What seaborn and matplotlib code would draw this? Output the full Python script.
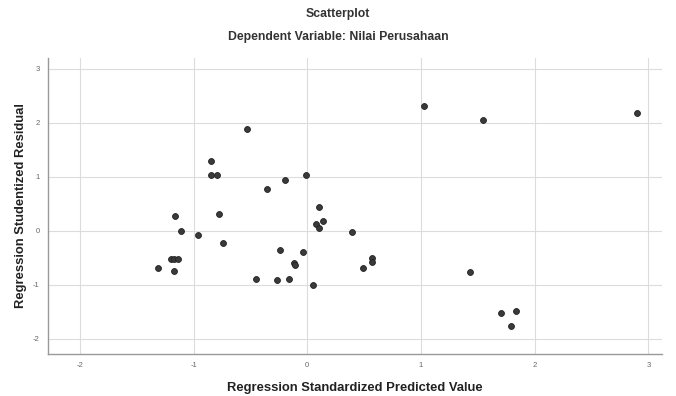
import numpy as np
import pandas as pd
import seaborn as sns
import matplotlib.pyplot as plt

# values
predicted = [-0.53, -0.85, -0.85, -0.79, -0.01, -0.20, -0.35, 0.10, -0.78, -1.16,
             0.14, 0.08, 0.10, -1.11, -0.96, -0.74, -0.24, -0.04, -0.12, -0.11,
             -1.20, -1.17, -1.14, -1.31, -1.17, -0.45, -0.27, -0.16, 0.05,
             1.03, 1.55, 2.90, 0.39, 0.49, 0.57, 0.57, 1.43, 1.70, 1.84, 1.79]
residual = [1.89, 1.30, 1.04, 1.03, 1.03, 0.94, 0.77, 0.44, 0.32, 0.28,
            0.19, 0.12, 0.06, -0.01, -0.07, -0.22, -0.35, -0.40, -0.60, -0.63,
            -0.53, -0.53, -0.53, -0.68, -0.74, -0.89, -0.91, -0.89, -1.00,
            2.31, 2.06, 2.18, -0.03, -0.69, -0.51, -0.58, -0.76, -1.52, -1.48, -1.77]
x_ticks = [-2, -1, 0, 1, 2, 3]
y_ticks = [-2, -1, 0, 1, 2, 3]

df = pd.DataFrame({"pred": predicted, "resid": residual})

sns.set_style("white")
plt.rcParams['font.family'] = ['Liberation Sans', 'DejaVu Sans']
plt.rcParams['axes.unicode_minus'] = False

fig = plt.figure(figsize=(6.76, 3.96), dpi=100)
ax = fig.add_axes([48 / 676, 42 / 396, 614 / 676, 296 / 396])

ax.grid(True, color="#dcdcdc", linewidth=0.8)
ax.set_axisbelow(True)

sns.scatterplot(data=df, x="pred", y="resid", ax=ax, s=18, color="#3a3a3a",
                edgecolor="#222222", linewidth=0.6, zorder=3)

ax.set_xlim(-2.28, 3.12)
ax.set_ylim(-2.28, 3.2)
ax.set_xticks(x_ticks)
ax.set_yticks(y_ticks)
ax.tick_params(labelsize=5.5, labelcolor="#666666", length=0, pad=6)

for side in ["top", "right"]:
    ax.spines[side].set_visible(False)
for side in ["left", "bottom"]:
    ax.spines[side].set_color("#999999")
    ax.spines[side].set_linewidth(1.0)

ax.set_xlabel("Regression Standardized Predicted Value", fontsize=9.4,
              fontweight="bold", color="#222222", labelpad=9)
ax.set_ylabel("Regression Studentized Residual", fontsize=9.4,
              fontweight="bold", color="#222222", labelpad=4)

fig.text(0.5, 1 - 14 / 396, "Scatterplot", ha="center", va="center",
         fontsize=8.8, fontweight="bold", color="#333333")
fig.text(0.5, 1 - 37 / 396, "Dependent Variable: Nilai Perusahaan", ha="center",
         va="center", fontsize=8.8, fontweight="bold", color="#333333")

fig.savefig("out.png", dpi=100)
